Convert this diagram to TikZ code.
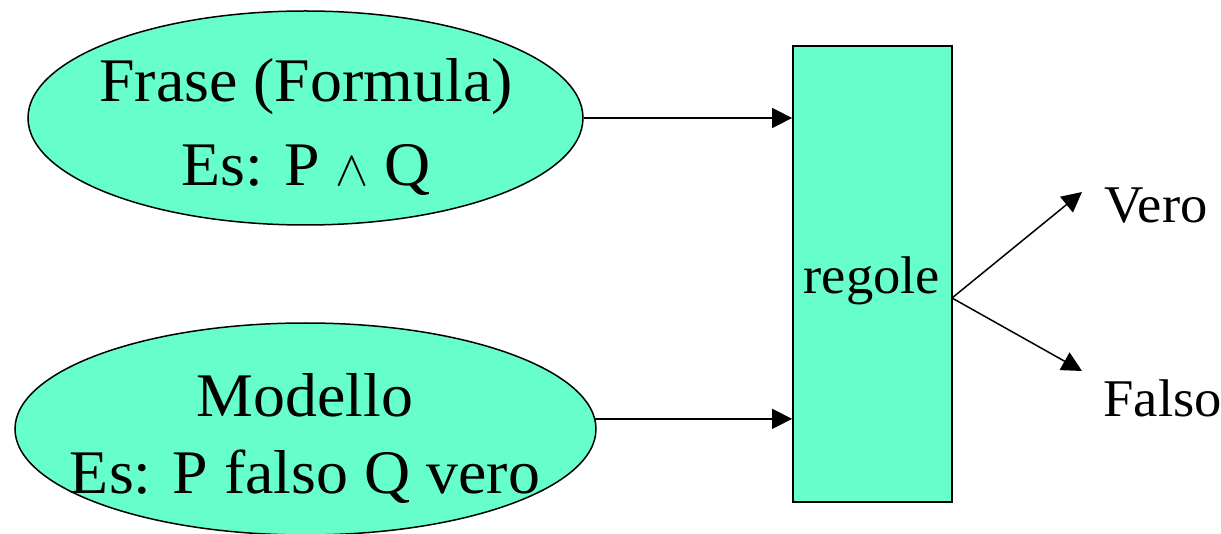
\documentclass[tikz,border=0pt]{standalone}
\usepackage{fontspec}
\setmainfont[FakeStretch=1.03]{Liberation Serif}
\usetikzlibrary{shapes.geometric,arrows.meta,calc}
\definecolor{aqua}{HTML}{66FFCC}
\begin{document}
\begin{tikzpicture}[x=0.5pt,y=-0.5pt,
  blob/.style={ellipse,draw=black,line width=0.75pt,fill=aqua,inner sep=0pt},
  rulebox/.style={rectangle,draw=black,line width=0.9pt,fill=aqua,inner sep=0pt,
    minimum width=79.5pt,minimum height=228pt},
  bigtxt/.style={font=\fontsize{31pt}{36pt}\selectfont,inner sep=0pt,anchor=base},
  smalltxt/.style={font=\fontsize{26.5pt}{30pt}\selectfont,inner sep=0pt},
  arr/.style={line width=0.75pt,-{Triangle[length=10pt,width=10pt]}}]
\useasboundingbox (0,0) rectangle (1221,534);
\begin{scope}
\clip (0,0) rectangle (1221,534);
% the two inputs
\node[blob,minimum width=277.5pt,minimum height=107pt] (frase) at (305.5,118) {};
\node[blob,minimum width=290.5pt,minimum height=106pt] (modello) at (305.5,429) {};
\end{scope}
\node[bigtxt] (frase1) at (306,102) {Frase (Formula)};
\node[bigtxt] (frase2) at (306,186) {Es: P $\wedge$ Q};
\node[bigtxt] (modello1) at (305,416) {Modello};
\node[bigtxt] (modello2) at (305,493) {Es: P falso Q vero};
% the rule box
\node[rulebox] (regole) at (872.5,274) {};
\node[smalltxt,anchor=base] (regoletxt) at (872,293) {regole};
% outputs
\node[smalltxt,anchor=base west] (vero) at (1104,223) {Vero};
\node[smalltxt,anchor=base west] (falso) at (1103,416) {Falso};
\coordinate (fork) at (952,298);
\coordinate (verotip) at (1082,192);
\coordinate (falsotip) at (1082,371);
% connectors
\draw[arr] (frase.east) -- (regole.west |- frase.east);
\draw[arr] (modello.2.18) -- (regole.west |- modello.2.18);
\draw[arr] (fork) -- (verotip);
\draw[arr] (fork) -- (falsotip);
\end{tikzpicture}
\end{document}
